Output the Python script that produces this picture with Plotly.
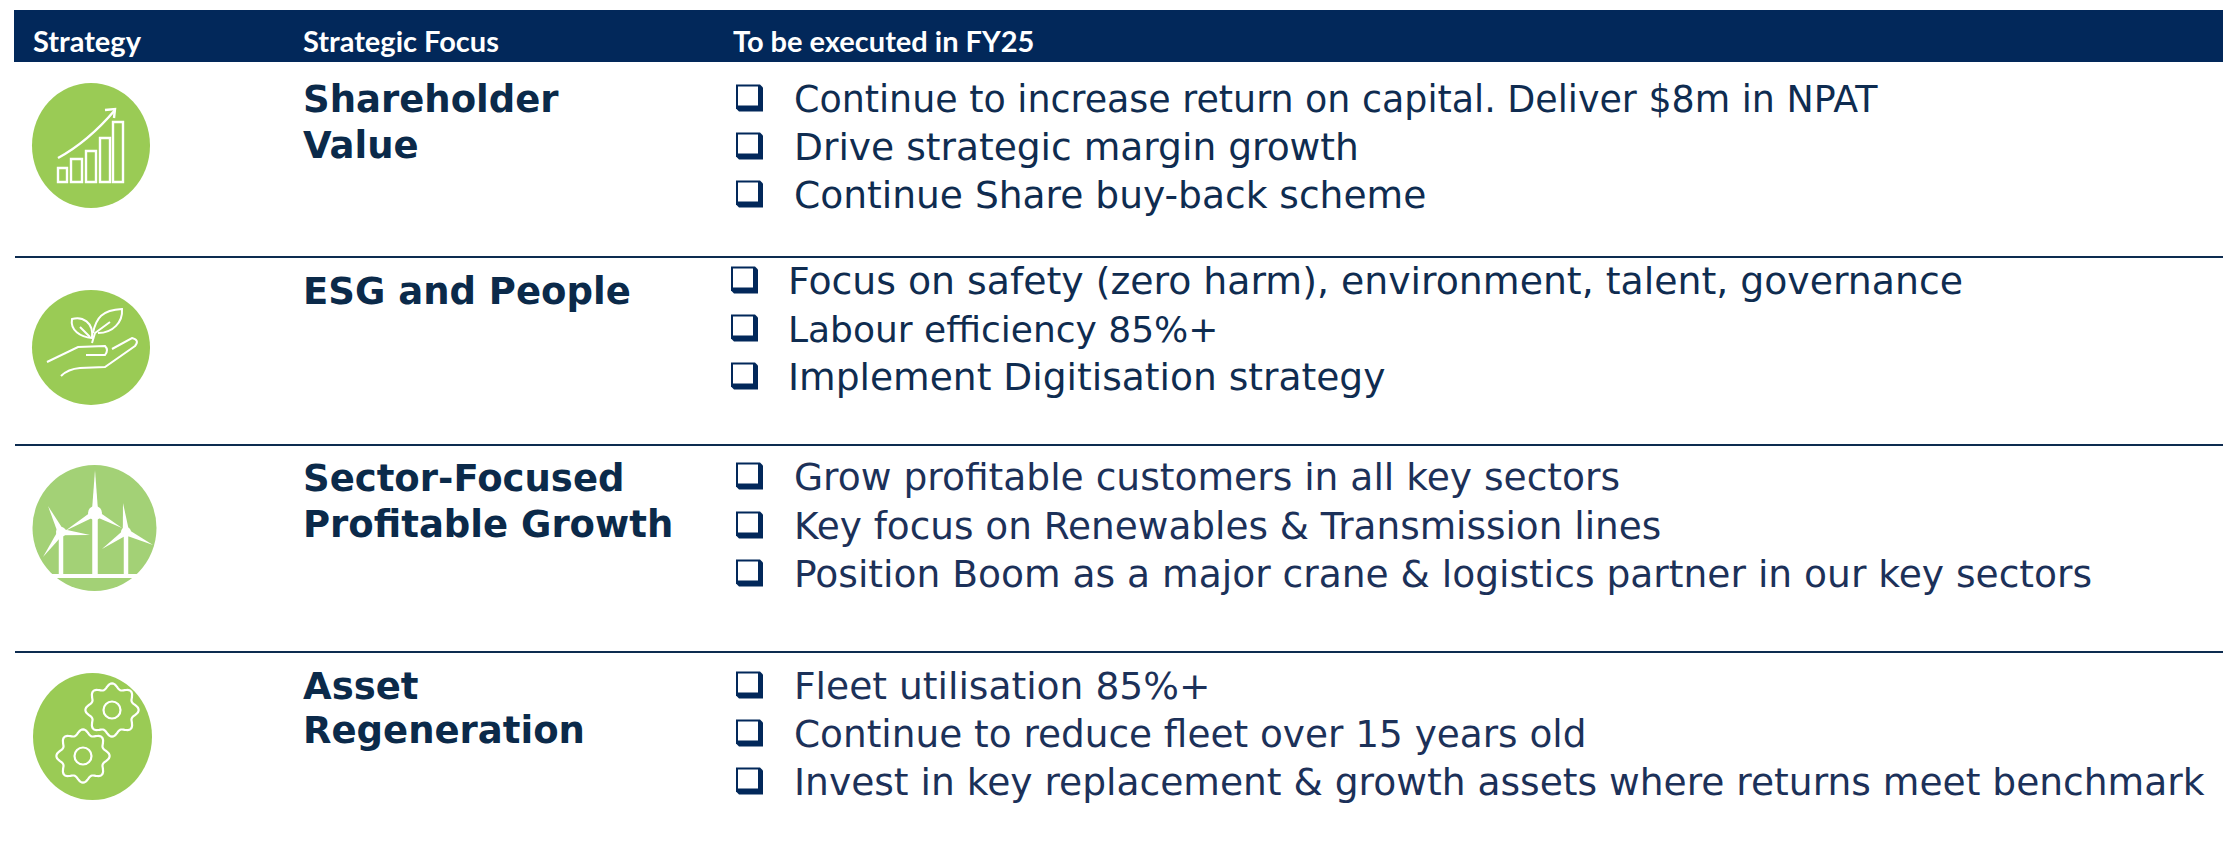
import math
import plotly.graph_objects as go

# ---- content ----
header_labels = ["Strategy", "Strategic Focus", "To be executed in FY25"]
focus_titles = [
    ["Shareholder", "Value"],
    ["ESG and People"],
    ["Sector-Focused", "Profitable Growth"],
    ["Asset", "Regeneration"],
]
actions = [
    ["Continue to increase return on capital. Deliver $8m in NPAT",
     "Drive strategic margin growth",
     "Continue Share buy-back scheme"],
    ["Focus on safety (zero harm), environment, talent, governance",
     "Labour efficiency 85%+",
     "Implement Digitisation strategy"],
    ["Grow profitable customers in all key sectors",
     "Key focus on Renewables & Transmission lines",
     "Position Boom as a major crane & logistics partner in our key sectors"],
    ["Fleet utilisation 85%+",
     "Continue to reduce fleet over 15 years old",
     "Invest in key replacement & growth assets where returns meet benchmark"],
]

# ---- layout & style ----
W, H = 2223, 850
NAVY, INK = "#02285A", "#0B2A4A"
row_colors = ["#0F2C50", "#0F2C50", "#1C3159", "#1C3159"]
GREEN, GREEN_LIGHT = "#9ACB55", "#A3D176"
BODY_FONT = "DejaVu Sans"
action_sizes = [[36.4, 37.6, 37.6], [37.8, 36, 37.6], [37.6, 37.4, 37.6], [37.6, 37.4, 37.6]]
TITLE_SIZE = 37
header_x = [32, 302, 732]
header_y = 40
title_x = 301.5
title_y = [[99, 145], [291], [478, 524], [686, 730]]
action_x = [792.5, 787, 792.5, 792.5]
bullet_x = [736, 731, 736, 736]
action_y = [[99, 147, 195], [281, 329, 377], [477, 526, 574], [686, 734, 782]]
rule_y = [257, 445, 652]

shapes, annotations = [], []


def rect(x0, y0, x1, y1, color):
    shapes.append(dict(type="rect", x0=x0, y0=y0, x1=x1, y1=y1,
                       fillcolor=color, line_width=0, layer="below"))


def line_path(d, width=2.0, fill=None):
    s = dict(type="path", path=d, line=dict(color="white", width=width))
    if fill:
        s["fillcolor"] = fill
        s["line"] = dict(width=0)
    shapes.append(s)


def circle(cx, cy, rx, ry, color):
    shapes.append(dict(type="circle", x0=cx - rx, x1=cx + rx, y0=cy - ry, y1=cy + ry,
                       fillcolor=color, line_width=0))


def text(x, y, s, font, size, color, bold=False):
    annotations.append(dict(x=x, y=y, xref="x", yref="y", text=f"<b>{s}</b>" if bold else s,
                            showarrow=False, xanchor="left", yanchor="middle",
                            font=dict(family=font, size=size, color=color),
                            align="left", borderpad=0))


def checkbox(x0, yc):
    # shadowed checkbox bullet: navy chamfered block with a white window
    y0, x1, y1 = yc - 14.5, x0 + 27, yc + 12.5
    shapes.append(dict(type="path", fillcolor=NAVY, line_width=0,
                       path=f"M{x0},{y0} L{x1 - 3},{y0} L{x1},{y0 + 3} L{x1},{y1} "
                            f"L{x0 + 3},{y1} L{x0},{y1 - 3} Z"))
    shapes.append(dict(type="rect", x0=x0 + 2, x1=x1 - 5, y0=y0 + 2, y1=y1 - 6,
                       fillcolor="white", line_width=0))


# header band and rules
rect(14, 10, W, 62, NAVY)
for y in rule_y:
    rect(15, y - 1, W, y + 1, "#0D2C50")

for x, s in zip(header_x, header_labels):
    text(x, header_y, s, "Lato", 29, "white", bold=True)

for lines, ys in zip(focus_titles, title_y):
    for s, y in zip(lines, ys):
        text(title_x, y, s, BODY_FONT, TITLE_SIZE, INK, bold=True)

for row, (items, ys) in enumerate(zip(actions, action_y)):
    for i, (s, y) in enumerate(zip(items, ys)):
        text(action_x[row], y, s.replace("&", "&amp;"), BODY_FONT, action_sizes[row][i], row_colors[row])
        checkbox(bullet_x[row], y)

# icon 1: rising bars
circle(91, 145.5, 59, 62.5, GREEN)
for x0, x1, y0 in [(58, 67, 168), (71, 82, 159), (86, 96, 151), (100, 110, 138), (113, 123, 122)]:
    shapes.append(dict(type="rect", x0=x0, x1=x1, y0=y0, y1=182, line=dict(color="white", width=2.4)))
line_path("M58,158 C80,146 98,130 115,110", 2.4)
line_path("M105,110 L115,109 L114,118", 2.4)

# icon 2: hand and seedling
circle(91, 347.5, 59, 57.5, GREEN)
line_path("M47,362 L78,347 L105,346 Q109,350 105,355 L86,355", 2)
line_path("M112,349 L132,338 Q140,340 135,346 L105,367 L80,368 Q68,369 61,376", 2)
line_path("M92,338 C80,337 70,330 72,319 C82,316 94,322 92,338 Z", 2)
line_path("M93,333 C96,318 102,310 122,309 C123,322 113,333 98,333", 2)
line_path("M92,343 L95,333 L110,322", 2)
line_path("M80,327 L90,337", 2)

# icon 3: wind turbines
circle(94.5, 528, 62, 63, GREEN_LIGHT)


def blade(hx, hy, tx, ty, w):
    dx, dy = tx - hx, ty - hy
    n = math.hypot(dx, dy)
    ox, oy = -dy / n * w, dx / n * w
    line_path(f"M{hx + ox:.1f},{hy + oy:.1f} L{tx},{ty} L{hx - ox:.1f},{hy - oy:.1f} Z", 0, fill="white")


turbines = [
    (95, 513, 4.5, 7, [(95, 470), (65, 531), (122, 528)]),
    (61, 532, 3.5, 5, [(48, 506), (90, 535), (43, 557)]),
    (126, 532, 3.5, 5, [(123, 503), (153, 545), (102, 549)]),
]
for hx, hy, half, r, tips in turbines:
    rect(hx - half / 2 - 0.5, hy, hx + half / 2 + 0.5, 575, "white")
    shapes[-1]["layer"] = "above"
    circle(hx, hy, r, r, "white")
    for tx, ty in tips:
        blade(hx, hy, tx, ty, 3.2)
rect(50, 574, 137, 578, "white")
shapes[-1]["layer"] = "above"


# icon 4: gears
def gear(cx, cy):
    pts = []
    for i in range(144):
        a = 2 * math.pi * i / 144 - math.pi / 2
        r = 24 + 2.6 * math.cos(8 * (a + math.pi / 2))
        pts.append(f"{cx + r * math.cos(a):.1f},{cy + r * math.sin(a):.1f}")
    line_path("M" + " L".join(pts) + " Z", 2.2)
    shapes.append(dict(type="circle", x0=cx - 8.5, x1=cx + 8.5, y0=cy - 8.5, y1=cy + 8.5,
                       line=dict(color="white", width=2.2)))


circle(92.5, 736.5, 59.5, 63.5, GREEN)
gear(112, 710)
gear(83, 756)

fig = go.Figure()
fig.update_layout(
    width=W, height=H, autosize=False,
    margin=dict(l=0, r=0, t=0, b=0, pad=0),
    paper_bgcolor="white", plot_bgcolor="white",
    xaxis=dict(range=[0, W], visible=False, fixedrange=True),
    yaxis=dict(range=[H, 0], visible=False, fixedrange=True),
    shapes=shapes, annotations=annotations, showlegend=False,
)
fig.write_html("out.html", config=dict(displayModeBar=False, staticPlot=True),
               post_script="document.body.style.margin='0';document.body.style.overflow='hidden';")
